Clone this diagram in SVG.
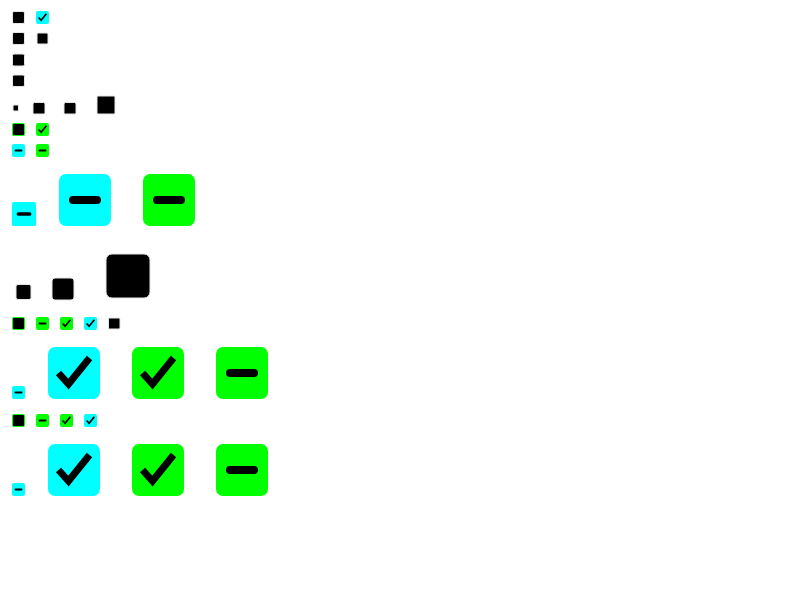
<svg xmlns="http://www.w3.org/2000/svg" xmlns:xlink="http://www.w3.org/1999/xlink" width="800" height="600" viewBox="0 0 800 600">
<style>
.cy{fill:#00ffff}
.gr{fill:#00ff00}
.bk{fill:#000000;stroke:#e6e6e6;stroke-width:1}
.bg{fill:#000000;stroke:#00ff00;stroke-width:1}
</style>
<defs>
<symbol id="chk" viewBox="0 0 52 52">
<polyline points="10.5,26 20.5,37 41.5,11" fill="none" stroke="#000" stroke-width="7" stroke-linejoin="miter" stroke-linecap="butt"/>
</symbol>
<symbol id="mns" viewBox="0 0 52 52">
<rect x="10" y="22" width="32" height="8" rx="4" fill="#000"/>
</symbol>
</defs>
<rect width="800" height="600" fill="#fff"/>
<g id="connectors"/>
<!-- row 1 -->
<g id="n1"><rect class="bk" x="12.5" y="11.5" width="12" height="12" rx="1.5"/></g>
<g id="n2"><rect class="cy" x="36" y="11" width="13" height="13" rx="2"/><use xlink:href="#chk" href="#chk" x="36" y="11" width="13" height="13"/></g>
<!-- row 2 -->
<g id="n3"><rect class="bk" x="12.5" y="32.5" width="12" height="12" rx="1.5"/></g>
<g id="n4"><rect class="bk" x="37" y="33" width="11" height="11" rx="1.5"/></g>
<!-- row 3,4 -->
<g id="n5"><rect class="bk" x="12.5" y="54" width="12" height="12" rx="1.5"/></g>
<g id="n6"><rect class="bk" x="12.5" y="75" width="12" height="11.5" rx="1.5"/></g>
<!-- row 5 -->
<g id="n7"><rect class="bk" x="13" y="105" width="5.5" height="6" rx="1"/></g>
<g id="n8"><rect class="bk" x="33" y="102.5" width="12" height="11.5" rx="1.5"/></g>
<g id="n9"><rect class="bk" x="64" y="102.5" width="12" height="11.5" rx="1.5"/></g>
<g id="n10"><rect class="bk" x="97" y="96" width="18" height="18" rx="1"/></g>
<!-- row 6 -->
<g id="n11"><rect class="bg" x="12.5" y="123.5" width="12" height="12" rx="1.5"/></g>
<g id="n12"><rect class="gr" x="36" y="123" width="13" height="13" rx="2"/><use xlink:href="#chk" href="#chk" x="36" y="123" width="13" height="13"/></g>
<!-- row 7 -->
<g id="n13"><rect class="cy" x="12" y="144" width="13" height="13" rx="2"/><use xlink:href="#mns" href="#mns" x="12" y="144" width="13" height="13"/></g>
<g id="n14"><rect class="gr" x="36" y="144" width="13" height="13" rx="2"/><use xlink:href="#mns" href="#mns" x="36" y="144" width="13" height="13"/></g>
<!-- row 8 -->
<g id="n15"><rect class="cy" x="12" y="202" width="24" height="24" rx="1.5"/><use xlink:href="#mns" href="#mns" x="12" y="202" width="24" height="24"/></g>
<g id="n16"><rect class="cy" x="59" y="174" width="52" height="52" rx="7"/><use xlink:href="#mns" href="#mns" x="59" y="174" width="52" height="52"/></g>
<g id="n17"><rect class="gr" x="143" y="174" width="52" height="52" rx="7"/><use xlink:href="#mns" href="#mns" x="143" y="174" width="52" height="52"/></g>
<!-- row 9 -->
<g id="n18"><rect class="bk" x="16" y="284.5" width="15" height="15" rx="2"/></g>
<g id="n19"><rect class="bk" x="52" y="278" width="22" height="22" rx="3"/></g>
<g id="n20"><rect class="bk" x="106" y="254" width="44" height="44" rx="6" stroke-width="1.5"/></g>
<!-- row 10 -->
<g id="n21"><rect class="bg" x="12.5" y="317.5" width="12" height="12" rx="1.5"/></g>
<g id="n22"><rect class="gr" x="36" y="317" width="13" height="13" rx="2"/><use xlink:href="#mns" href="#mns" x="36" y="317" width="13" height="13"/></g>
<g id="n23"><rect class="gr" x="60" y="317" width="13" height="13" rx="2"/><use xlink:href="#chk" href="#chk" x="60" y="317" width="13" height="13"/></g>
<g id="n24"><rect class="cy" x="84" y="317" width="13" height="13" rx="2"/><use xlink:href="#chk" href="#chk" x="84" y="317" width="13" height="13"/></g>
<g id="n25"><rect class="bk" x="108.5" y="318" width="11.5" height="11" rx="1"/></g>
<!-- row 11 -->
<g id="n26"><rect class="cy" x="12" y="386" width="13" height="13" rx="2"/><use xlink:href="#mns" href="#mns" x="12" y="386" width="13" height="13"/></g>
<g id="n27"><rect class="cy" x="48" y="347" width="52" height="52" rx="7"/><use xlink:href="#chk" href="#chk" x="48" y="347" width="52" height="52"/></g>
<g id="n28"><rect class="gr" x="132" y="347" width="52" height="52" rx="7"/><use xlink:href="#chk" href="#chk" x="132" y="347" width="52" height="52"/></g>
<g id="n29"><rect class="gr" x="216" y="347" width="52" height="52" rx="7"/><use xlink:href="#mns" href="#mns" x="216" y="347" width="52" height="52"/></g>
<!-- row 12 -->
<g id="n30"><rect class="bg" x="12.5" y="414.5" width="12" height="12" rx="1.5"/></g>
<g id="n31"><rect class="gr" x="36" y="414" width="13" height="13" rx="2"/><use xlink:href="#mns" href="#mns" x="36" y="414" width="13" height="13"/></g>
<g id="n32"><rect class="gr" x="60" y="414" width="13" height="13" rx="2"/><use xlink:href="#chk" href="#chk" x="60" y="414" width="13" height="13"/></g>
<g id="n33"><rect class="cy" x="84" y="414" width="13" height="13" rx="2"/><use xlink:href="#chk" href="#chk" x="84" y="414" width="13" height="13"/></g>
<!-- row 13 -->
<g id="n34"><rect class="cy" x="12" y="483" width="13" height="13" rx="2"/><use xlink:href="#mns" href="#mns" x="12" y="483" width="13" height="13"/></g>
<g id="n35"><rect class="cy" x="48" y="444" width="52" height="52" rx="7"/><use xlink:href="#chk" href="#chk" x="48" y="444" width="52" height="52"/></g>
<g id="n36"><rect class="gr" x="132" y="444" width="52" height="52" rx="7"/><use xlink:href="#chk" href="#chk" x="132" y="444" width="52" height="52"/></g>
<g id="n37"><rect class="gr" x="216" y="444" width="52" height="52" rx="7"/><use xlink:href="#mns" href="#mns" x="216" y="444" width="52" height="52"/></g>
</svg>
